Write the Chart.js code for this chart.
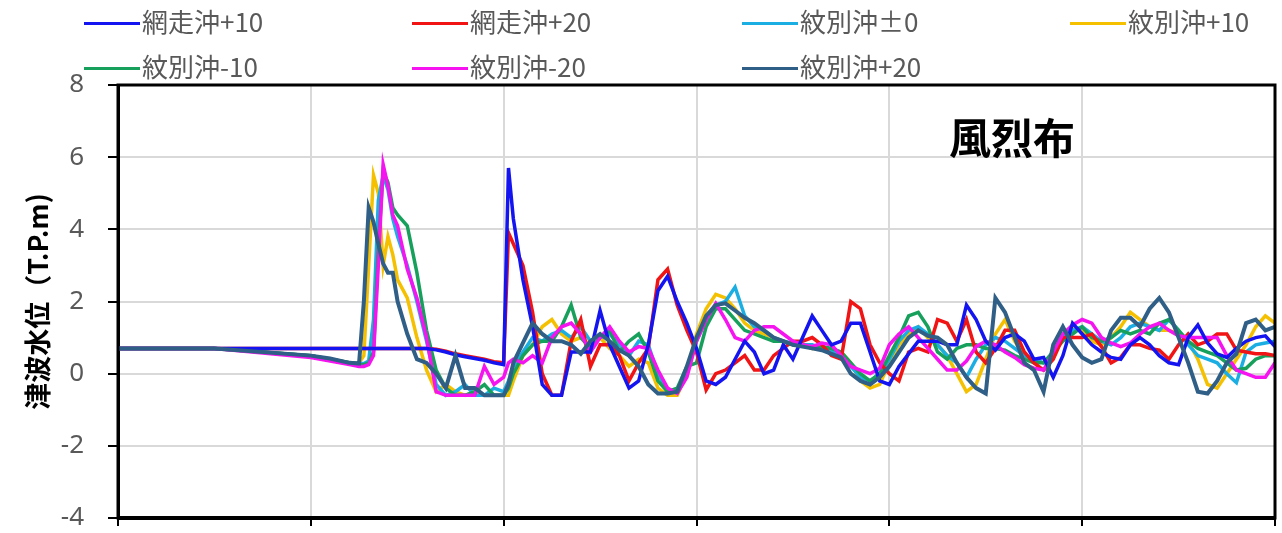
<!DOCTYPE html>
<html>
<head>
<meta charset="utf-8">
<script src="https://cdn.jsdelivr.net/npm/chart.js@4"></script>
<style>
	body { margin: 0; background: #fff; }
	#wrap { position: relative; width: 1282px; height: 533px; }
	#tsunamiChart { position: absolute; left: 0; top: 0; }
	.leg { position: absolute; height: 30px; font-family: "Noto Sans CJK JP", "Noto Sans", sans-serif; font-size: 26px; color: #595959; white-space: nowrap; }
	.leg i { position: absolute; left: 0; top: 14px; width: 56px; height: 3px; }
	.leg span { position: absolute; left: 58px; top: -2px; line-height: 30px; }
</style>
</head>
<body>
<div id="wrap">
	<canvas id="tsunamiChart" width="1282" height="533"></canvas>
	<div id="legend"></div>
</div>
<script>
// time axis (no labels shown in the original)
var times = [0, 10, 20, 22, 24, 25, 25.5, 26, 26.5, 27,
	27.5, 28, 28.5, 29, 30, 31, 32, 33, 34, 35,
	36, 37, 38, 39, 40, 40.5, 41, 42, 43, 44,
	45, 46, 47, 48, 49, 50, 51, 52, 53, 54,
	55, 56, 57, 58, 59, 60, 61, 62, 63, 64,
	65, 66, 67, 68, 69, 70, 71, 72, 73, 74,
	75, 76, 77, 78, 79, 80, 81, 82, 83, 84,
	85, 86, 87, 88, 89, 90, 91, 92, 93, 94,
	95, 96, 97, 98, 99, 100, 101, 102, 103, 104,
	105, 106, 107, 108, 109, 110, 111, 112, 113, 114,
	115, 116, 117, 118, 119, 120];

var yTicks = [-4, -2, 0, 2, 4, 6, 8];

var seriesNames = ["網走沖+10", "網走沖+20", "紋別沖±0", "紋別沖+10", "紋別沖-10", "紋別沖-20", "紋別沖+20"];

var abashiriP10 = [0.7, 0.7, 0.7, 0.7, 0.7, 0.7, 0.7, 0.7, 0.7, 0.7,
	0.7, 0.7, 0.7, 0.7, 0.7, 0.7, 0.7, 0.66, 0.6, 0.52,
	0.47, 0.42, 0.37, 0.3, 0.25, 5.7, 4.3, 2.6, 1.3, -0.3,
	-0.6, -0.6, 0.6, 0.6, 0.6, 1.75, 0.8, 0.2, -0.4, -0.2,
	0.8, 2.3, 2.7, 2.0, 1.4, 0.7, -0.2, -0.3, -0.1, 0.4,
	0.9, 0.6, 0.0, 0.1, 0.8, 0.4, 1.0, 1.6, 1.2, 0.8,
	0.9, 1.4, 1.4, 0.6, -0.2, -0.3, 0.2, 0.55, 0.9, 0.9,
	0.9, 0.8, 0.8, 1.9, 1.5, 0.9, 0.65, 1.0, 1.1, 0.9,
	0.4, 0.45, -0.1, 0.5, 1.4, 1.1, 0.8, 0.6, 0.45, 0.4,
	0.8, 1.0, 0.8, 0.5, 0.3, 0.25, 1.0, 1.35, 0.85, 0.55,
	0.45, 0.7, 0.9, 1.0, 1.05, 0.75];

var abashiriP20 = [0.7, 0.7, 0.7, 0.7, 0.7, 0.7, 0.7, 0.7, 0.7, 0.7,
	0.7, 0.7, 0.7, 0.7, 0.7, 0.7, 0.7, 0.68, 0.62, 0.55,
	0.5, 0.45, 0.4, 0.33, 0.3, 3.9, 3.6, 3.0, 1.7, 0.0,
	-0.6, -0.6, 0.9, 1.5, 0.2, 0.8, 0.8, 0.5, -0.2, 0.3,
	0.7, 2.6, 2.9, 1.9, 1.2, 0.6, -0.45, 0.0, 0.1, 0.3,
	0.5, 0.1, 0.1, 0.5, 0.7, 0.9, 0.9, 1.0, 0.8, 0.5,
	0.4, 2.0, 1.8, 0.8, 0.3, 0.0, -0.2, 0.6, 0.7, 0.6,
	1.5, 1.4, 0.9, 1.5, 0.6, 0.3, 0.7, 1.2, 1.2, 0.6,
	0.3, 0.1, 0.4, 1.0, 1.0, 1.0, 1.1, 0.75, 0.3, 0.45,
	0.8, 0.8, 0.7, 0.65, 0.4, 0.8, 1.1, 0.8, 0.9, 1.1,
	1.1, 0.65, 0.6, 0.55, 0.55, 0.5];

var monbetsu0 = [0.7, 0.7, 0.5, 0.4, 0.3, 0.28, 0.28, 0.35, 1.5, 4.8,
	5.5, 5.1, 4.3, 3.8, 3.0, 2.0, 0.9, -0.3, -0.6, -0.5,
	-0.3, -0.6, -0.6, -0.4, -0.5, -0.2, 0.2, 0.6, 1.0, 0.9,
	1.1, 1.2, 1.0, 1.3, 0.9, 1.0, 1.1, 0.8, 0.5, 0.9,
	0.8, 0.0, -0.5, -0.5, 0.0, 0.9, 1.5, 1.9, 2.0, 2.4,
	1.6, 1.3, 1.2, 1.0, 0.9, 0.85, 0.8, 0.8, 0.7, 0.65,
	0.5, 0.2, -0.1, -0.2, 0.0, 0.4, 0.9, 1.2, 1.3, 1.1,
	0.8, 0.5, 0.3, -0.1, 0.4, 0.8, 1.0, 0.9, 0.7, 0.5,
	0.4, 0.3, 0.6, 1.0, 1.2, 1.3, 1.1, 0.9, 0.8, 1.0,
	1.3, 1.4, 1.3, 1.2, 1.5, 1.2, 0.8, 0.5, 0.4, 0.3,
	0.0, -0.25, 0.6, 0.8, 0.85, 0.9];

var monbetsuP10 = [0.7, 0.7, 0.5, 0.4, 0.3, 0.3, 0.5, 3.0, 5.5, 5.0,
	3.0, 3.8, 3.3, 2.6, 2.1, 1.0, 0.1, -0.5, -0.3, -0.5,
	-0.6, -0.5, -0.6, -0.6, -0.6, -0.6, -0.2, 0.5, 0.8, 1.3,
	1.5, 1.1, 0.9, 1.0, 0.8, 1.0, 0.7, 0.5, 0.2, 0.4,
	0.3, -0.4, -0.6, -0.6, 0.0, 1.1, 1.8, 2.2, 2.1, 1.8,
	1.4, 1.2, 1.1, 1.0, 0.9, 0.8, 0.8, 0.7, 0.7, 0.6,
	0.6, 0.3, -0.2, -0.4, -0.3, 0.3, 0.8, 1.1, 1.3, 1.0,
	0.8, 0.5, 0.0, -0.5, -0.3, 0.4, 1.1, 1.5, 0.9, 0.5,
	0.4, 0.3, 0.5, 1.0, 1.3, 1.2, 0.9, 0.8, 1.0, 1.3,
	1.7, 1.5, 1.3, 1.2, 1.2, 1.1, 0.9, 0.4, -0.3, -0.4,
	0.0, 0.4, 0.8, 1.3, 1.6, 1.4];

var monbetsuM10 = [0.7, 0.7, 0.5, 0.4, 0.3, 0.25, 0.25, 0.3, 0.6, 3.5,
	5.6, 5.3, 4.6, 4.4, 4.1, 2.8, 1.2, 0.1, -0.4, -0.6,
	-0.6, -0.5, -0.3, -0.6, -0.6, -0.4, 0.0, 0.5, 0.8, 0.9,
	0.9, 1.3, 1.9, 1.0, 0.7, 1.0, 1.2, 0.6, 0.9, 1.1,
	0.6, -0.2, -0.5, -0.4, 0.2, 0.3, 1.3, 1.8, 1.8, 1.5,
	1.2, 1.1, 1.0, 0.9, 0.9, 0.8, 0.8, 0.7, 0.75, 0.7,
	0.6, 0.3, 0.0, -0.2, 0.0, 0.5, 1.0, 1.6, 1.7, 1.3,
	0.6, 0.4, 0.7, 0.8, 0.8, 0.7, 0.7, 0.65, 0.5, 0.4,
	0.3, 0.3, 0.6, 0.9, 1.1, 1.3, 1.0, 0.9, 1.0, 1.2,
	1.1, 1.2, 1.1, 1.4, 1.5, 1.2, 0.9, 0.7, 0.6, 0.5,
	0.3, 0.1, 0.15, 0.4, 0.5, 0.5];

var monbetsuM20 = [0.7, 0.7, 0.45, 0.35, 0.25, 0.2, 0.2, 0.25, 0.5, 3.0,
	5.8, 5.2, 4.4, 4.1, 2.9, 2.1, 1.0, -0.5, -0.6, -0.6,
	-0.6, -0.6, 0.2, -0.3, -0.1, 0.3, 0.4, 0.3, 0.5, 0.3,
	1.0, 1.3, 1.4, 1.1, 0.6, 1.0, 1.3, 0.9, 0.6, 0.75,
	0.7, 0.1, -0.4, -0.55, -0.1, 0.9, 1.5, 1.95, 1.5, 1.0,
	0.9, 1.2, 1.3, 1.3, 1.1, 0.9, 0.8, 0.75, 0.85, 0.8,
	0.5, 0.2, 0.1, 0.0, 0.15, 0.8, 1.1, 1.3, 1.0, 0.7,
	0.4, 0.1, 0.1, 0.35, 0.75, 0.9, 0.8, 0.6, 0.45, 0.25,
	0.15, 0.1, 0.6, 1.1, 1.35, 1.5, 1.4, 1.0, 0.85, 0.75,
	0.85, 1.1, 1.3, 1.4, 1.2, 1.05, 1.0, 1.0, 1.0, 1.0,
	0.5, 0.1, 0.0, -0.1, -0.1, 0.3];

var monbetsuP20 = [0.7, 0.7, 0.5, 0.42, 0.3, 0.28, 2.0, 4.6, 4.2, 3.6,
	3.05, 2.8, 2.8, 2.0, 1.1, 0.4, 0.3, 0.0, -0.4, 0.5,
	-0.4, -0.4, -0.6, -0.6, -0.6, -0.3, 0.3, 0.85, 1.4, 1.1,
	0.9, 0.9, 0.8, 0.55, 0.9, 1.1, 0.9, 0.65, 0.5, 0.2,
	-0.3, -0.55, -0.55, -0.5, 0.2, 1.0, 1.6, 1.9, 1.95, 1.75,
	1.55, 1.4, 1.2, 1.0, 0.9, 0.8, 0.75, 0.7, 0.65, 0.55,
	0.45, 0.0, -0.2, -0.3, -0.1, 0.2, 0.6, 1.0, 1.2, 1.05,
	1.0, 0.8, 0.3, -0.1, -0.4, -0.55, 2.1, 1.7, 1.0, 0.3,
	0.1, -0.5, 0.8, 1.3, 0.8, 0.45, 0.3, 0.4, 1.2, 1.55,
	1.55, 1.3, 1.8, 2.1, 1.7, 1.0, 0.3, -0.5, -0.55, -0.2,
	0.3, 0.55, 1.4, 1.5, 1.2, 1.3];

var allSeries = [abashiriP10, abashiriP20, monbetsu0, monbetsuP10, monbetsuM10, monbetsuM20, monbetsuP20];
var colors = ["#1414F0", "#F01414", "#1BAEE3", "#F4C000", "#17A05C", "#F514F0", "#2F5E86"];
var widths = [3.5, 3.5, 3.5, 3.5, 3.5, 3.5, 4];
// which line ends up on top (lower = drawn later)
var drawOrder = [1, 3, 5, 6, 4, 2, 0];

// html legend, laid out in 4 fixed columns like the original
var legendPos = [[84, 8], [412, 8], [742, 8], [1070, 8], [84, 53], [412, 53], [742, 53]];
var legendHtml = "";
for (var i = 0; i < seriesNames.length; i++) {
	legendHtml += '<div class="leg" style="left:' + legendPos[i][0] + 'px;top:' + legendPos[i][1] + 'px">' +
		'<i style="background:' + colors[i] + '"></i><span>' + seriesNames[i] + '</span></div>';
}
document.getElementById("legend").innerHTML = legendHtml;

var datasets = allSeries.map(function (vals, i) {
	return {
		label: seriesNames[i],
		data: vals.map(function (v, k) { return { x: times[k], y: v }; }),
		borderColor: colors[i],
		backgroundColor: colors[i],
		borderWidth: widths[i],
		pointRadius: 0,
		tension: 0,
		order: drawOrder[i],
	};
});

// black frame round the plot + the place name
var framePlugin = {
	id: "frame",
	afterDraw: function (chart) {
		var a = chart.chartArea;
		var ctx = chart.ctx;
		ctx.save();
		ctx.strokeStyle = "#000";
		ctx.lineWidth = 3;
		ctx.strokeRect(a.left, a.top, a.right - a.left, a.bottom - a.top);
		ctx.beginPath();
		ctx.lineWidth = 4;
		ctx.moveTo(a.left - 1, a.bottom);
		ctx.lineTo(a.right + 1, a.bottom);
		ctx.stroke();
		ctx.fillStyle = "#000";
		ctx.font = "bold 42px 'Noto Sans CJK JP'";
		ctx.textAlign = "center";
		ctx.textBaseline = "middle";
		ctx.fillText("風烈布", 1012, 138);
		ctx.restore();
	},
};

var ctx = document.getElementById("tsunamiChart").getContext("2d");
var myChart = new Chart(ctx, {
	type: "line",
	data: { datasets: datasets },
	plugins: [framePlugin],
	options: {
		responsive: false,
		animation: false,
		layout: { padding: { top: 85, right: 7, left: 0, bottom: 0 } },
		plugins: {
			legend: { display: false },
			tooltip: { enabled: false },
		},
		scales: {
			x: {
				type: "linear",
				min: 0,
				max: 120,
				ticks: { display: false, stepSize: 20 },
				grid: { color: "#d9d9d9", lineWidth: 2, tickLength: 8, tickColor: "#000", tickWidth: 2 },
				border: { color: "#000", width: 3 },
				afterFit: function (scale) {
					scale.height = 15;
					scale.paddingLeft = 0;
					scale.paddingRight = 0;
				},
			},
			y: {
				min: -4,
				max: 8,
				afterBuildTicks: function (scale) {
					scale.ticks = yTicks.map(function (v) { return { value: v }; });
				},
				ticks: {
					color: "#595959",
					padding: 24,
					font: { family: "'Noto Sans'", size: 26 },
				},
				grid: { color: "#d9d9d9", lineWidth: 2, tickLength: 10, tickColor: "#000", tickWidth: 2 },
				border: { color: "#000", width: 3 },
				title: {
					display: true,
					text: "津波水位（T.P.m)",
					color: "#000",
					font: { family: "'Noto Sans CJK JP'", size: 27, weight: "bold" },
					padding: { top: 22, bottom: 0 },
				},
				afterFit: function (scale) {
					scale.width = 118;
					scale.paddingTop = 0;
					scale.paddingBottom = 0;
				},
			},
		},
	},
});
</script>
</body>
</html>
